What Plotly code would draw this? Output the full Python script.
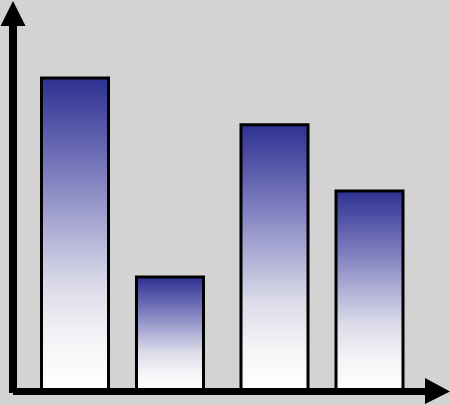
import plotly.graph_objects as go

# ---- data ----
categories = ["A", "B", "C", "D"]
x_positions = [1.0, 2.0, 3.1, 4.1]
values = [8.0, 2.9, 6.8, 5.1]

BAR_HALF = 0.3526
W, H = 450, 405
gradient = [
    [0.0, "#ffffff"],
    [0.15, "#f5f5f8"],
    [0.33, "#dcdce9"],
    [0.51, "#aeaed6"],
    [0.70, "#7b7bbd"],
    [1.0, "#2e3192"],
]

fig = go.Figure()
for cat, xc, v in zip(categories, x_positions, values):
    fig.add_trace(go.Scatter(
        x=[xc - BAR_HALF, xc - BAR_HALF, xc + BAR_HALF, xc + BAR_HALF, xc - BAR_HALF],
        y=[0, v, v, 0, 0],
        mode="lines",
        fill="toself",
        fillgradient=dict(type="vertical", colorscale=gradient),
        line=dict(color="black", width=3),
        name=cat,
        hoverinfo="skip",
    ))


def px(x, y):
    return x / W, 1 - y / H


def path(points):
    parts = []
    for i, (x, y) in enumerate(points):
        a, b = px(x, y)
        parts.append(("M" if i == 0 else "L") + f"{a:.5f},{b:.5f}")
    return " ".join(parts) + " Z"

shapes = []
shapes.append(dict(type="path", xref="paper", yref="paper",
                   path=path([(9, 20), (17, 20), (17, 393), (9, 393)]),
                   fillcolor="black", line=dict(width=0)))
shapes.append(dict(type="path", xref="paper", yref="paper",
                   path=path([(13, 1), (25.5, 26), (0.5, 26)]),
                   fillcolor="black", line=dict(width=0)))
shapes.append(dict(type="path", xref="paper", yref="paper",
                   path=path([(13, 388), (430, 388), (430, 395), (13, 395)]),
                   fillcolor="black", line=dict(width=0)))
shapes.append(dict(type="path", xref="paper", yref="paper",
                   path=path([(450, 391.5), (425, 378), (425, 404)]),
                   fillcolor="black", line=dict(width=0)))

fig.update_layout(
    width=W, height=H,
    margin=dict(l=0, r=0, t=0, b=0),
    paper_bgcolor="#d3d3d3",
    plot_bgcolor="#d3d3d3",
    showlegend=False,
    shapes=shapes,
    xaxis=dict(range=[1 - 75 / 95, 1 + 375 / 95], autorange=False, visible=False, fixedrange=True),
    yaxis=dict(range=[-15 / 39, 390 / 39], autorange=False, visible=False, fixedrange=True),
)

fig.write_html(
    "out.html",
    config={"displayModeBar": False},
    post_script="document.body.style.margin='0';document.body.style.overflow='hidden';",
)
